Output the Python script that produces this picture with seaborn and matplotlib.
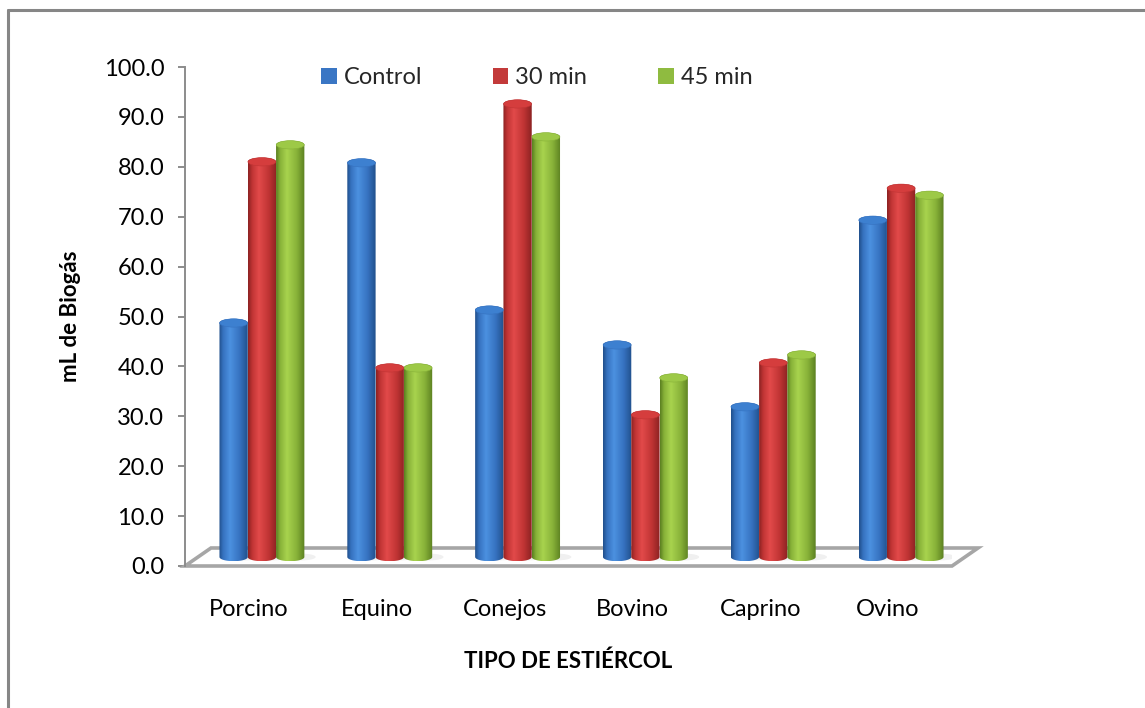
import numpy as np
import pandas as pd
import matplotlib
matplotlib.use("Agg")
import matplotlib.pyplot as plt
import matplotlib.transforms as mtransforms
from matplotlib.path import Path
from matplotlib.patches import PathPatch, Ellipse, Polygon, Patch
from matplotlib.colors import to_rgb
from matplotlib.lines import Line2D
import seaborn as sns

# Biogas volume (mL) by manure type and treatment time
categories = ["Porcino", "Equino", "Conejos", "Bovino", "Caprino", "Ovino"]
series = ["Control", "30 min", "45 min"]
control = [46.9, 79.0, 49.5, 42.5, 30.1, 67.5]
min30 = [79.2, 37.9, 90.8, 28.5, 38.9, 73.9]
min45 = [82.6, 37.9, 84.2, 35.9, 40.5, 72.5]
yticks = [0, 10, 20, 30, 40, 50, 60, 70, 80, 90, 100]

df = pd.DataFrame({
    "tipo": categories * 3,
    "serie": [s for s in series for _ in categories],
    "ml": control + min30 + min45,
})

# shading stops per series: (dark edge, mid, highlight, top face)
shades = {
    "Control": ("#21508c", "#3672c0", "#4c91e0", "#3d80d0"),
    "30 min": ("#8c2222", "#c03434", "#e24a4a", "#d53d3d"),
    "45 min": ("#5b8021", "#88b239", "#a8d34e", "#9dc947"),
}
legend_colors = {"Control": "#3a76c4", "30 min": "#c33a3a", "45 min": "#8fbb40"}

sns.set_theme(style="white")
plt.rcParams["font.family"] = ["Lato", "DejaVu Sans"]

W, H, DPI = 1145, 708, 100
fig = plt.figure(figsize=(W / DPI, H / DPI), dpi=DPI)
ax = fig.add_axes([185 / W, 1 - 566 / H, (952 - 185) / W, (566 - 67) / H])

sns.barplot(data=df, x="tipo", y="ml", hue="serie", order=categories,
            hue_order=series, palette=legend_colors, width=0.664, gap=0,
            dodge=True, legend=False, ax=ax)

ax.set_xlim(-0.5, len(categories) - 0.5)
ax.set_ylim(0, 100)

# depth offset of the bars inside the pseudo-3D floor (pixels)
dx_px, dy_px = 13, 9
shift = ax.transData + mtransforms.ScaledTranslation(dx_px / DPI, dy_px / DPI, fig.dpi_scale_trans)
ppx = (1.0 / ((952 - 185) / len(categories)))      # data units per pixel, x
ppy = 100.0 / (566 - 67)                             # data units per pixel, y
eh = 4.2 * ppy                                       # half height of cylinder ellipses


def ramp(dark, mid, light, n=64):
    stops = [(0.0, dark), (0.14, mid), (0.38, light), (0.72, mid), (1.0, dark)]
    t = np.linspace(0, 1, n)
    cols = []
    for k in range(3):
        xs = [s[0] for s in stops]
        ys = [to_rgb(s[1])[k] for s in stops]
        cols.append(np.interp(t, xs, ys))
    return np.stack(cols, axis=-1)[None, :, :]


# floor of the chart
depth_x = 2 * dx_px * ppx
depth_y = 2 * dy_px * ppy
x0, x1 = -0.5, len(categories) - 0.5
floor = Polygon([(x0, 0), (x1, 0), (x1 + depth_x, depth_y), (x0 + depth_x, depth_y)],
                closed=True, facecolor="white", edgecolor="#a6a6a6", lw=2.6,
                transform=ax.transData, clip_on=False, zorder=1)
ax.add_patch(floor)

for serie, cont in zip(series, ax.containers):
    dark, mid, light, top = shades[serie]
    img = ramp(dark, mid, light)
    for bar in cont:
        bar.set_visible(False)
        x, w, h = bar.get_x(), bar.get_width(), bar.get_height()
        xc = x + w / 2
        a = np.linspace(np.pi, 2 * np.pi, 40)
        lower = np.column_stack([xc + w / 2 * np.cos(a), eh * np.sin(a)])
        b = np.linspace(0, np.pi, 40)
        upper = np.column_stack([xc + w / 2 * np.cos(b), h + eh * np.sin(b)])
        verts = np.vstack([lower, upper, lower[:1]])
        body = Path(verts, closed=True)
        clip = PathPatch(body, transform=shift, facecolor="none", edgecolor="none")
        ax.add_patch(clip)
        im = ax.imshow(img, extent=[x, x + w, -eh, h + eh], aspect="auto",
                       interpolation="bilinear", zorder=3, clip_on=True)
        im.set_transform(shift)
        im.set_clip_path(clip)
        # soft shadow on the floor
        sh = Ellipse((xc + w * 0.4, 0), w * 1.0, 1.6 * eh, facecolor="#e6e6e6",
                     edgecolor="none", transform=shift, zorder=2, alpha=0.6)
        ax.add_patch(sh)
        cap = Ellipse((xc, h), w * 0.99, 2 * eh * 0.99, facecolor=top,
                      edgecolor=mid, lw=0.4, transform=shift, zorder=4)
        ax.add_patch(cap)
ax.set_xlim(-0.5, len(categories) - 0.5)
ax.set_ylim(0, 100)

# axes styling
for side in ["top", "right", "bottom"]:
    ax.spines[side].set_visible(False)
ax.spines["left"].set_color("#8c8c8c")
ax.spines["left"].set_linewidth(1.4)
ax.set_yticks(yticks)
ax.set_yticklabels([f"{v:.1f}" for v in yticks])
ax.tick_params(axis="y", left=True, length=5, width=1.4, color="#8c8c8c",
               pad=10, labelsize=17, labelcolor="black")
ax.tick_params(axis="x", bottom=False, length=0, pad=24, labelsize=17,
               labelcolor="black")
ax.set_xlabel("TIPO DE ESTIÉRCOL", fontsize=16, fontweight="bold",
              labelpad=22, color="black")
ax.set_ylabel("mL de Biogás", fontsize=16, fontweight="bold",
              labelpad=16, color="black")
ax.set_facecolor("none")
ax.grid(False)

handles = [Patch(facecolor=legend_colors[s], edgecolor="none") for s in series]
fig.legend(handles, series, loc="upper left", bbox_to_anchor=(300 / W, 1 - 46 / H),
           ncol=3, frameon=False, fontsize=17, handlelength=0.65,
           handleheight=0.65, handletextpad=0.3, columnspacing=3.0)

# outer frame of the chart area
fx = 7.5 / W
fy = 1 - 9.5 / H
fig.add_artist(Line2D([fx, 1.0], [fy, fy], transform=fig.transFigure,
                      color="#868686", lw=2.2))
fig.add_artist(Line2D([fx, fx], [fy, 0.0], transform=fig.transFigure,
                      color="#868686", lw=2.2))

fig.savefig("out.png", dpi=DPI, facecolor="white")
